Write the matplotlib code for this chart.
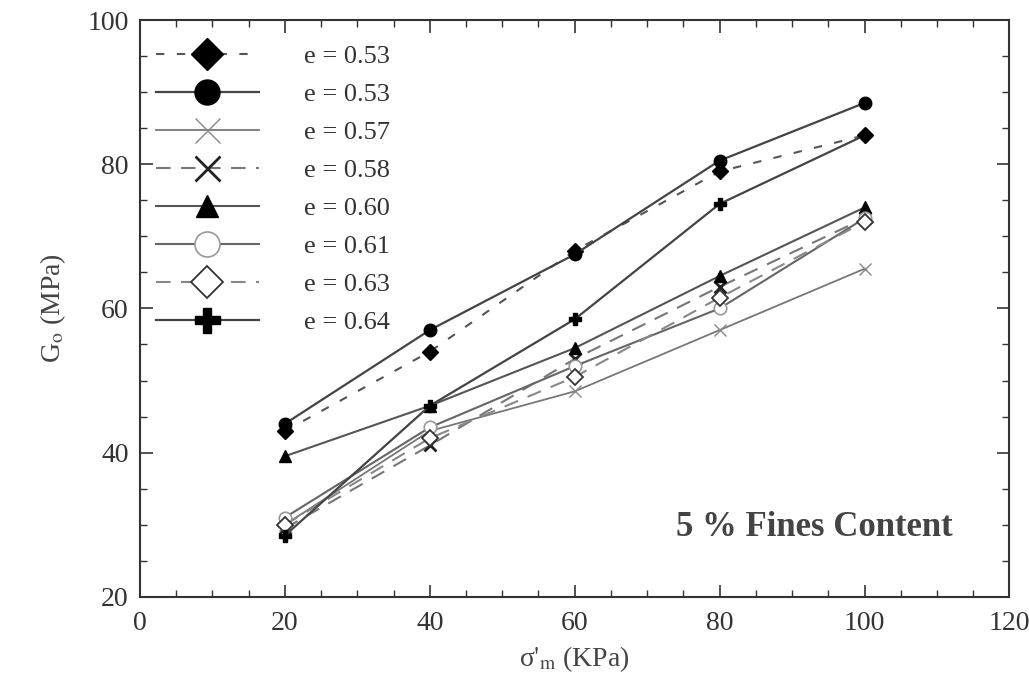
import matplotlib
matplotlib.use("Agg")
import matplotlib.pyplot as plt
from matplotlib.ticker import MultipleLocator

plt.rcParams['font.family'] = ['Liberation Serif', 'DejaVu Serif']
plt.rcParams['mathtext.fontset'] = 'stix'

# Data
stress = [20, 40, 60, 80, 100]
labels = ["e = 0.53", "e = 0.53", "e = 0.57", "e = 0.58",
          "e = 0.60", "e = 0.61", "e = 0.63", "e = 0.64"]
e053_diamond = [43.0, 54.0, 68.0, 79.0, 84.0]
e053_circle = [44.0, 57.0, 67.5, 80.5, 88.5]
e057 = [30.0, 43.0, 48.5, 57.0, 65.5]
e058 = [29.5, 41.0, 53.0, 63.0, 72.5]
e060 = [39.5, 46.5, 54.5, 64.5, 74.0]
e061 = [31.0, 43.5, 52.0, 60.0, 72.5]
e063 = [30.0, 42.0, 50.5, 61.5, 72.0]
e064 = [28.5, 46.5, 58.5, 74.5, 84.0]

series = [e053_diamond, e053_circle, e057, e058, e060, e061, e063, e064]
styles = [
    dict(ls=(0, (4, 6)), marker='D', ms=8, mfc='black', mec='black', color='#555555', lw=1.5),
    dict(ls='-', marker='o', ms=9, mfc='black', mec='black', color='#444444', lw=1.6),
    dict(ls='-', marker='x', ms=9, mew=1.0, mec='#888888', color='#777777', lw=1.3),
    dict(ls=(0, (7, 5)), marker='x', ms=9, mew=2.0, mec='#222222', color='#777777', lw=1.5),
    dict(ls='-', marker='^', ms=8, mfc='black', mec='black', color='#555555', lw=1.5),
    dict(ls='-', marker='o', ms=9, mfc='white', mec='#999999', mew=1.2, color='#666666', lw=1.5),
    dict(ls=(0, (7, 5)), marker='D', ms=8, mfc='white', mec='#333333', mew=1.3, color='#888888', lw=1.5),
    dict(ls='-', marker='P', ms=9, mfc='black', mec='black', color='#444444', lw=1.6),
]

fig = plt.figure(figsize=(10.29, 6.9), dpi=100)
ax = fig.add_axes([0.136, 0.135, 0.845, 0.836])

for vals, lab, st in zip(series, labels, styles):
    ax.plot(stress, vals, label=lab, **st)

ax.set_xlim(0, 120)
ax.set_ylim(20, 100)
ax.xaxis.set_major_locator(MultipleLocator(20))
ax.xaxis.set_minor_locator(MultipleLocator(5))
ax.yaxis.set_major_locator(MultipleLocator(20))
ax.yaxis.set_minor_locator(MultipleLocator(5))
ax.tick_params(which='both', direction='in', top=True, right=True, labelsize=20, colors='#333333')
ax.tick_params(axis='x', which='major', pad=10)
ax.tick_params(axis='y', which='major', pad=8)
ax.tick_params(which='major', length=9, width=1.2)
ax.tick_params(which='minor', length=5, width=1.0)
for s in ax.spines.values():
    s.set_linewidth(1.5)
    s.set_color('#333333')

ax.set_xlabel("σ$'_\\mathrm{m}$ (KPa)", fontsize=20, color='#444444', labelpad=6)
ax.set_ylabel("G$_\\mathrm{o}$ (MPa)", fontsize=20, color='#444444', labelpad=14)

leg = ax.legend(loc='upper left', frameon=False, fontsize=19, markerscale=2.0,
                handlelength=3.9, labelspacing=0.55, borderaxespad=0.2,
                handletextpad=1.7, bbox_to_anchor=(0.0, 0.985))
for t in leg.get_texts():
    t.set_color('#333333')

ax.text(0.935, 0.12, "5 % Fines Content", transform=ax.transAxes, fontsize=25,
        fontweight='bold', color='#444444', ha='right', va='center')

fig.savefig("out.png", dpi=100)
